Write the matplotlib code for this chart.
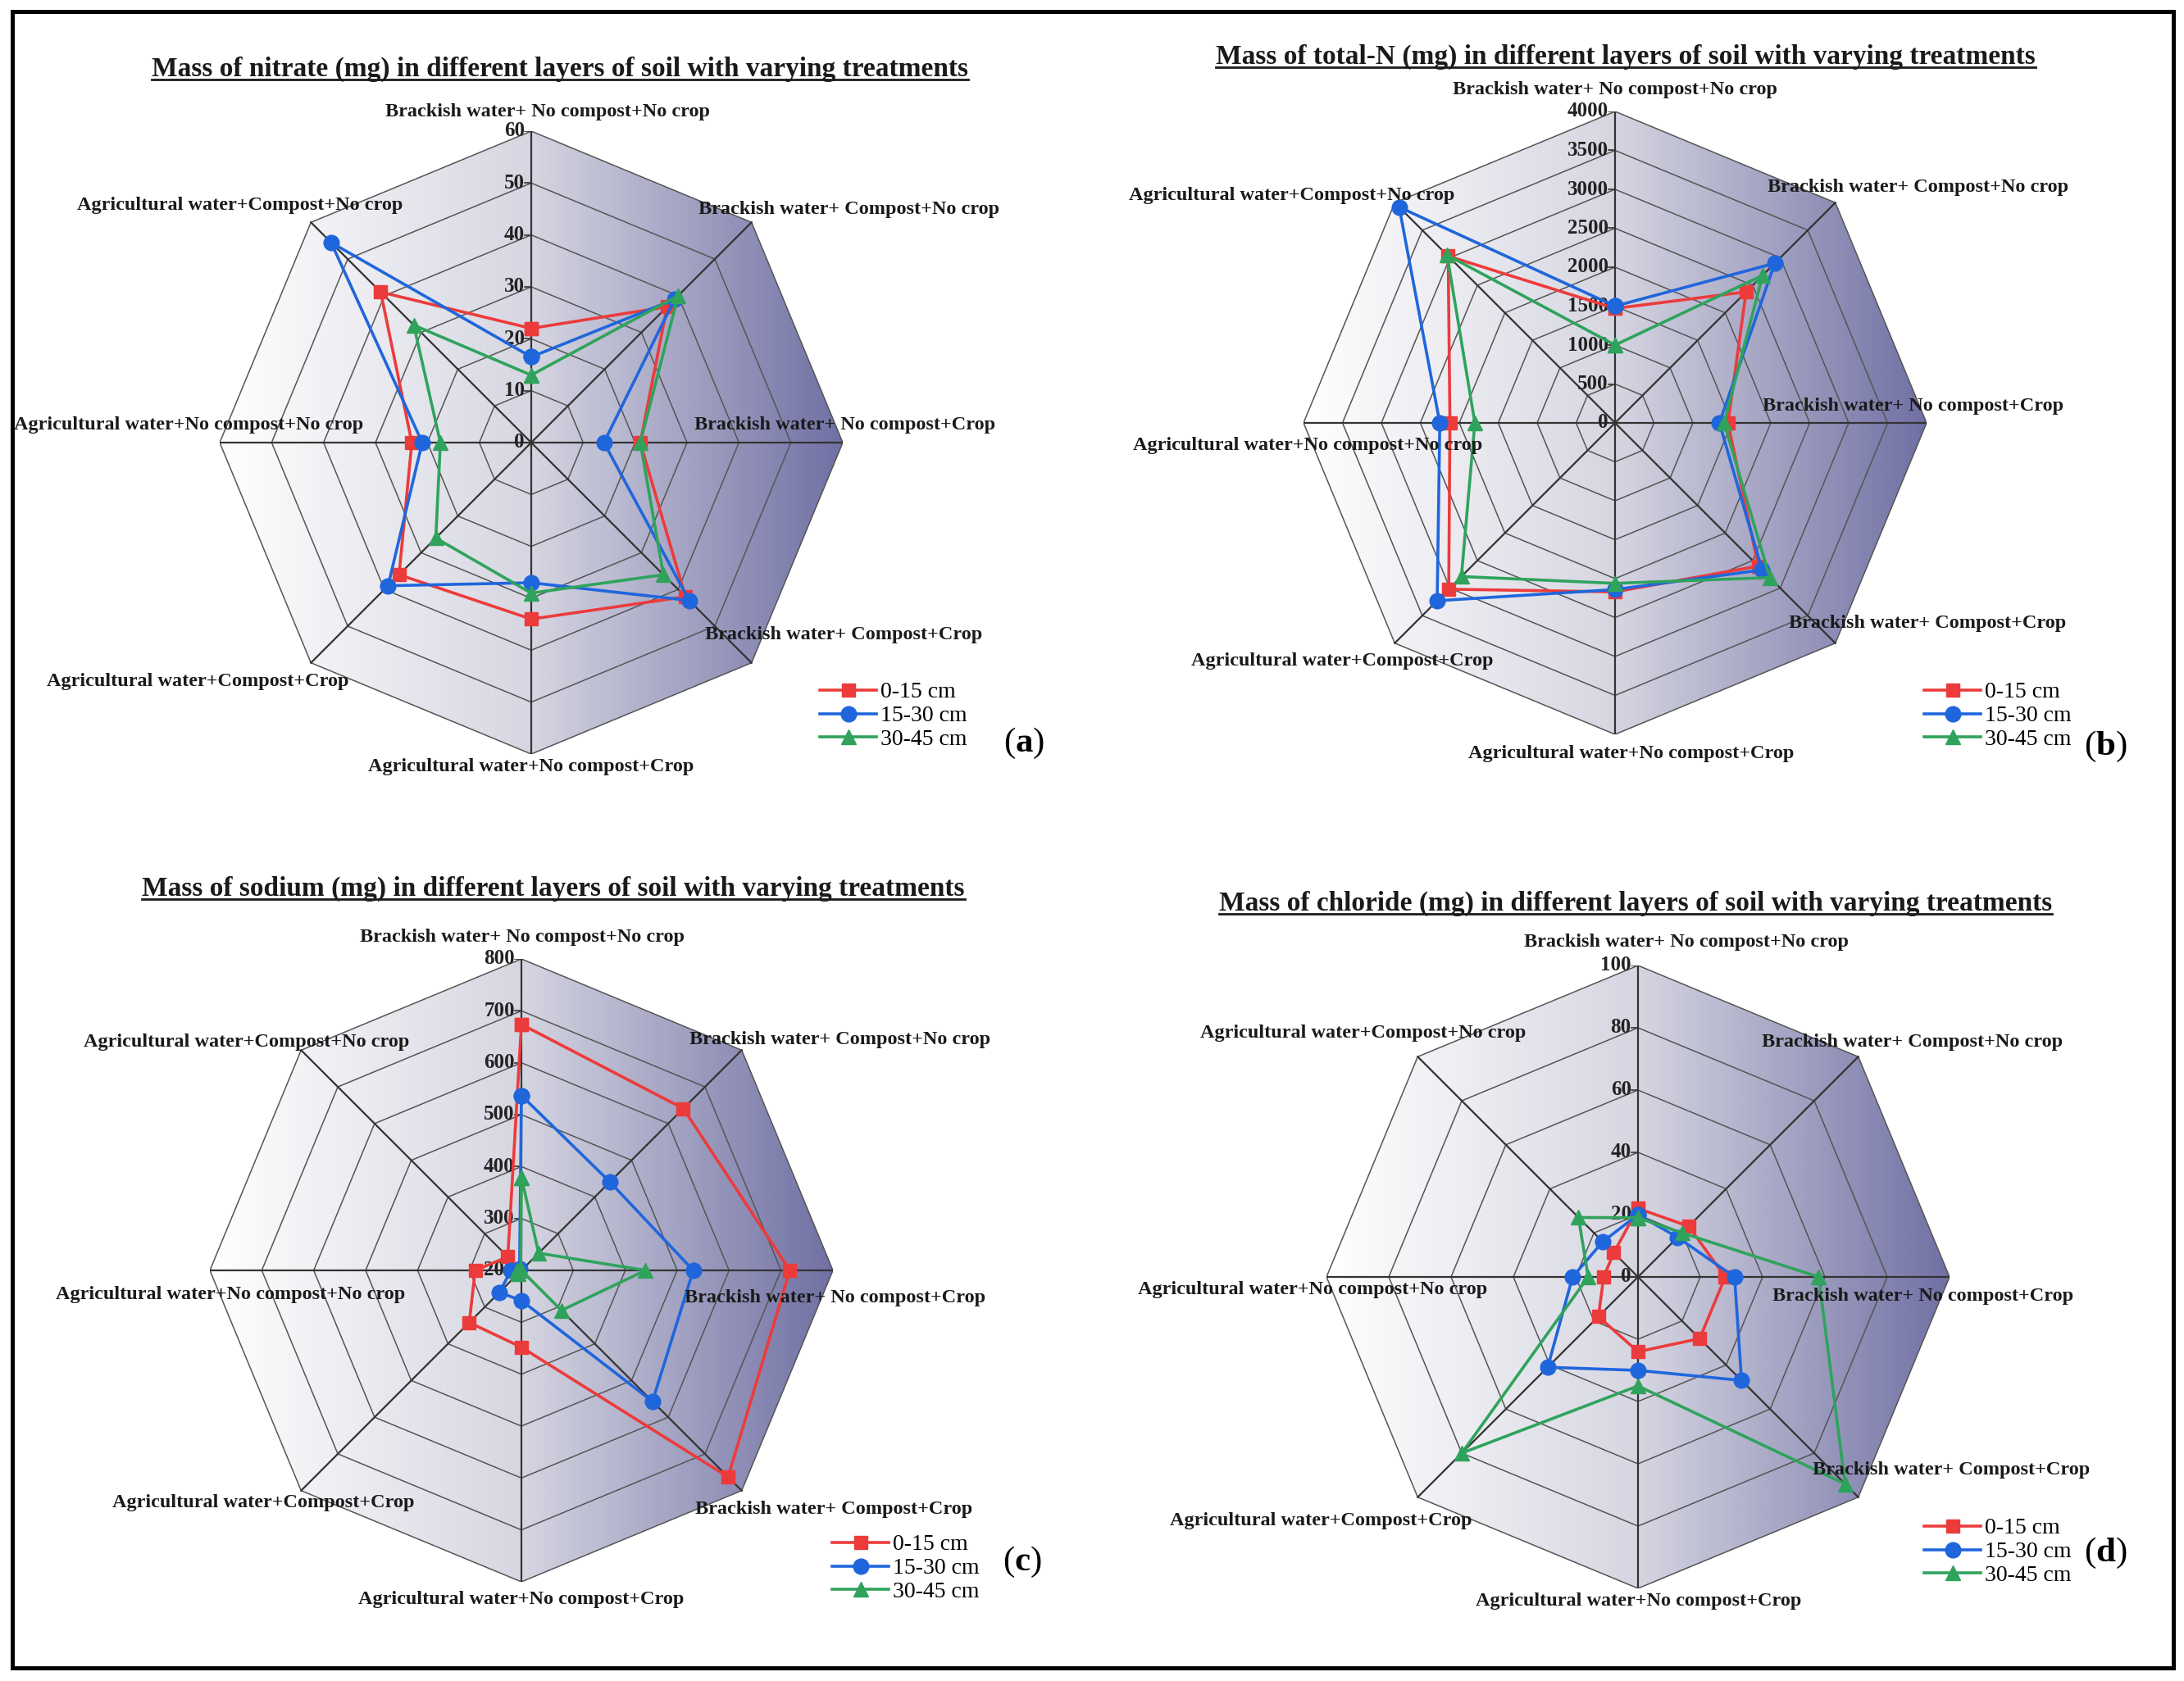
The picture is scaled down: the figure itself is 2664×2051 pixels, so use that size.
import numpy as np
import matplotlib
matplotlib.use("Agg")
import matplotlib.pyplot as plt
from matplotlib.colors import LinearSegmentedColormap
from matplotlib.patches import Polygon, Rectangle
from matplotlib.lines import Line2D

plt.rcParams['font.family'] = ['Liberation Serif', 'DejaVu Serif']
plt.rcParams['mathtext.fontset'] = 'custom'
plt.rcParams['mathtext.rm'] = 'Liberation Serif'
plt.rcParams['mathtext.bf'] = 'Liberation Serif:bold'

W, H = 2664, 2051
DPI = 100
R = 380  # radius of outer octagon, px

# ---------------- data ----------------
treatments = [
    "Brackish water+ No compost+No crop",
    "Brackish water+ Compost+No crop",
    "Brackish water+ No compost+Crop",
    "Brackish water+ Compost+Crop",
    "Agricultural water+No compost+Crop",
    "Agricultural water+Compost+Crop",
    "Agricultural water+No compost+No crop",
    "Agricultural water+Compost+No crop",
]
depths = ["0-15 cm", "15-30 cm", "30-45 cm"]

nitrate_0_15 = [22, 37, 21, 42, 34, 36, 23, 41]
nitrate_15_30 = [16.5, 39, 14, 43, 27, 39, 21, 54.5]
nitrate_30_45 = [13, 40, 21, 36, 29, 26, 17.5, 32]

totaln_0_15 = [1470, 2380, 1450, 2600, 2170, 3020, 2120, 3030]
totaln_15_30 = [1500, 2900, 1340, 2670, 2140, 3230, 2250, 3920]
totaln_30_45 = [1000, 2680, 1400, 2810, 2060, 2790, 1800, 3050]

sodium_0_15 = [674, 641, 717, 763, 348, 342, 289, 237]
sodium_15_30 = [537, 441, 531, 557, 258, 260, 220, 205]
sodium_30_45 = [379, 247, 439, 309, 200, 210, 208, 202]

chloride_0_15 = [22, 23, 28, 28, 24, 18, 11, 11]
chloride_15_30 = [20, 18, 31, 47, 30, 41, 21, 16]
chloride_30_45 = [19, 20, 58, 94, 35, 80, 16, 27]

titles = [
    "Mass of nitrate (mg) in different layers of soil with varying treatments",
    "Mass of total-N (mg) in different layers of soil with varying treatments",
    "Mass of sodium (mg) in different layers of soil with varying treatments",
    "Mass of chloride (mg) in different layers of soil with varying treatments",
]
ticks = [
    list(range(0, 61, 10)),
    list(range(0, 4001, 500)),
    list(range(200, 801, 100)),
    list(range(0, 101, 20)),
]
series = [
    [nitrate_0_15, nitrate_15_30, nitrate_30_45],
    [totaln_0_15, totaln_15_30, totaln_30_45],
    [sodium_0_15, sodium_15_30, sodium_30_45],
    [chloride_0_15, chloride_15_30, chloride_30_45],
]
tags = ["a", "b", "c", "d"]

# ---------------- layout (px, image coords) ----------------
centers = [(648, 540), (1970, 516), (636, 1550), (1998, 1558)]
title_pos = [(683, 93), (1983, 78), (675, 1093), (1995, 1111)]
label_off = [
    [(20, -23), (119, -16), (3, -21), (112, -34), (0, 16), (-138, 23), (-38, -21), (-87, -21)],
    [(0, -26), (101, -19), (-16, -20), (112, -24), (20, 23), (-64, 22), (5, 28), (-126, -9)],
    [(1, -27), (120, -13), (3, 34), (112, 23), (0, 21), (-46, 15), (25, 30), (-67, -10)],
    [(59, -29), (66, -18), (-32, 24), (113, -33), (1, 15), (-118, 29), (-17, 16), (-67, -29)],
]
legend_pos = [(1000, 832), (2347, 832), (1015, 1872), (2347, 1852)]
tag_pos = [(1249, 907), (2568, 911), (1247, 1906), (2568, 1895)]

colors = ["#ec3b3b", "#1f66dc", "#2fa35c"]
markers = ["s", "o", "^"]
msizes = [12, 13.5, 13]

bg = LinearSegmentedColormap.from_list("bg", ["#ffffff", "#d6d6e2", "#7070a4"])

fig = plt.figure(figsize=(W / DPI, H / DPI), dpi=DPI)

ang = np.pi / 2 - np.arange(8) * np.pi / 4
vx, vy = np.cos(ang), np.sin(ang)

for p in range(4):
    cx, cy = centers[p]
    ax = fig.add_axes([(cx - R) / W, 1 - (cy + R) / H, 2 * R / W, 2 * R / H])
    ax.set_xlim(-1, 1)
    ax.set_ylim(-1, 1)
    ax.axis("off")

    vmin, vmax = ticks[p][0], ticks[p][-1]

    # gradient background inside the octagon
    octo = Polygon(np.column_stack([vx, vy]), closed=True, transform=ax.transData,
                   facecolor="none", edgecolor="none")
    ax.add_patch(octo)
    grad = np.linspace(0, 1, 600)[None, :]
    im = ax.imshow(grad, extent=[-1, 1, -1, 1], cmap=bg, aspect="auto", zorder=0)
    im.set_clip_path(octo)

    # rings and spokes
    for t in ticks[p][1:]:
        r = (t - vmin) / (vmax - vmin)
        ax.plot(np.append(vx, vx[0]) * r, np.append(vy, vy[0]) * r,
                color="#555555", lw=1.1, zorder=1)
    for k in range(8):
        ax.plot([0, vx[k]], [0, vy[k]], color="#333333", lw=1.6, zorder=2)

    # tick labels on the top axis
    for t in ticks[p]:
        r = (t - vmin) / (vmax - vmin)
        ax.plot([-0.02, 0], [r, r], color="#333333", lw=1.2, zorder=2)
        ax.text(-0.022, r, str(t), ha="right", va="center", fontsize=18,
                fontweight="bold", color="#222222", zorder=3)

    # data
    handles = []
    for s in range(3):
        vals = np.array(series[p][s], dtype=float)
        rr = (vals - vmin) / (vmax - vmin)
        xs = np.append(vx * rr, vx[0] * rr[0])
        ys = np.append(vy * rr, vy[0] * rr[0])
        ln, = ax.plot(xs, ys, color=colors[s], lw=2.6, marker=markers[s],
                      ms=msizes[s], mec=colors[s], label=depths[s], zorder=4 + s)
        handles.append(ln)

    # axis labels
    for k in range(8):
        dx, dy = label_off[p][k]
        ax.text(vx[k] + dx / R, vy[k] - dy / R, treatments[k], ha="center", va="center",
                fontsize=17.5, fontweight="bold", color="#1a1a1a", zorder=10)

    lx, ly = legend_pos[p]
    ax.legend(handles=handles, loc="upper left", bbox_to_anchor=(lx / W, 1 - ly / H),
              bbox_transform=fig.transFigure, frameon=False, fontsize=20,
              handlelength=2.5, handletextpad=0.15, labelspacing=0.12,
              borderpad=0, borderaxespad=0)

    tx, ty = tag_pos[p]
    fig.text(tx / W, 1 - ty / H, r"($\mathbf{%s}$)" % tags[p], ha="center", va="center",
             fontsize=31)

# titles with underline
renderer = fig.canvas.get_renderer()
for p in range(4):
    tx, ty = title_pos[p]
    t = fig.text(tx / W, 1 - ty / H, titles[p], ha="center", va="baseline",
                 fontsize=24, fontweight="bold", color="#1a1a1a")
    bb = t.get_window_extent(renderer=renderer)
    yl = (H - ty - 4) / H
    fig.add_artist(Line2D([bb.x0 / W, bb.x1 / W], [yl, yl], transform=fig.transFigure,
                          color="#1a1a1a", lw=2.0))

# outer frame
fig.add_artist(Rectangle((15 / W, 1 - 2035 / H), (2651 - 15) / W, (2035 - 14) / H,
                         transform=fig.transFigure, fill=False, lw=3.6, ec="black"))

fig.savefig("out.png", dpi=DPI)
